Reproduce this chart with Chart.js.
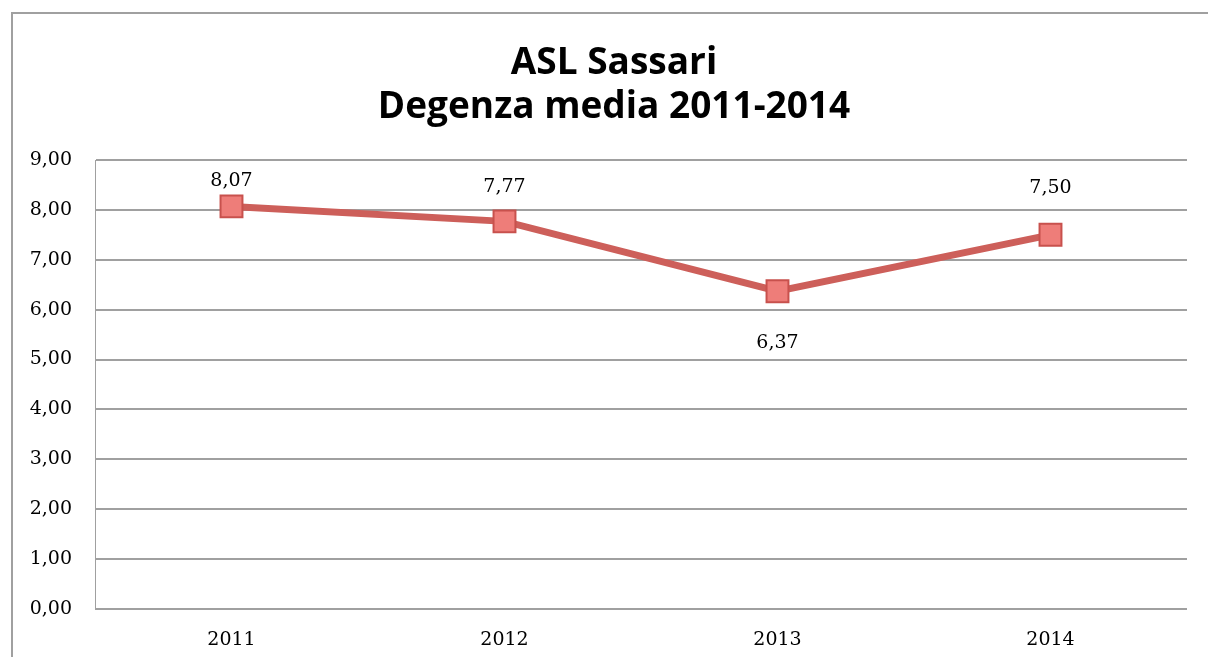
<!DOCTYPE html>
<html><head><meta charset="utf-8">
<script src="https://cdn.jsdelivr.net/npm/chart.js@4"></script>
<style>html,body{margin:0;padding:0;background:#fff}#wrap{width:1208px;height:657px;position:relative}</style>
</head><body><div id="wrap"><canvas id="c"></canvas></div>
<script>
const titleLines = ['ASL Sassari', 'Degenza media 2011-2014'];
const categories = ['2011', '2012', '2013', '2014'];
const values = [8.07, 7.77, 6.37, 7.50];
const yMin = 0, yMax = 9, yStep = 1;

const fmt = v => v.toFixed(2).replace('.', ',');
const labelOffsets = [-25, -34, 52, -47];

const decor = {
  id: 'decor',
  beforeDraw(chart) {
    const ctx = chart.ctx;
    ctx.save();
    ctx.fillStyle = '#fff';
    ctx.fillRect(0, 0, chart.width, chart.height);
    ctx.strokeStyle = '#a0a0a0';
    ctx.lineWidth = 2;
    ctx.beginPath();
    ctx.moveTo(12, chart.height);
    ctx.lineTo(12, 13);
    ctx.lineTo(chart.width, 13);
    ctx.stroke();
    ctx.fillStyle = '#000';
    ctx.font = 'bold 37px "Open Sans"';
    ctx.textAlign = 'center';
    ctx.textBaseline = 'middle';
    ctx.fillText(titleLines[0], 614, 63);
    ctx.fillText(titleLines[1], 614, 107);
    ctx.restore();
  },
  afterDatasetsDraw(chart) {
    const ctx = chart.ctx;
    const meta = chart.getDatasetMeta(0);
    ctx.save();
    ctx.fillStyle = '#000';
    ctx.font = '19px "DejaVu Serif"';
    ctx.textAlign = 'center';
    ctx.textBaseline = 'middle';
    meta.data.forEach((pt, i) => {
      ctx.fillText(fmt(values[i]), pt.x, pt.y + labelOffsets[i]);
    });
    ctx.restore();
  }
};

new Chart(document.getElementById('c'), {
  type: 'line',
  data: {
    labels: categories,
    datasets: [{
      data: values,
      borderColor: '#cd5f5a',
      borderWidth: 7,
      tension: 0,
      pointStyle: 'rect',
      pointRadius: 15.5,
      pointHoverRadius: 15.5,
      pointBackgroundColor: '#ee7d79',
      pointBorderColor: '#c8514d',
      pointBorderWidth: 2
    }]
  },
  options: {
    responsive: true,
    maintainAspectRatio: false,
    animation: false,
    events: [],
    layout: { padding: { top: 160, right: 21, bottom: 0, left: 0 } },
    plugins: { legend: { display: false }, tooltip: { enabled: false }, title: { display: false } },
    scales: {
      x: {
        offset: true,
        grid: { display: false, drawTicks: false },
        border: { display: false },
        ticks: { color: '#000', font: { family: 'DejaVu Serif', size: 19 }, padding: 20 },
        afterFit(s) { s.height = 48; }
      },
      y: {
        min: yMin, max: yMax,
        grid: { color: '#a0a0a0', lineWidth: 2, drawTicks: false },
        border: { display: true, color: '#a0a0a0', width: 1 },
        ticks: {
          stepSize: yStep, color: '#000', padding: 23,
          font: { family: 'DejaVu Serif', size: 19 },
          callback: v => fmt(v)
        },
        afterFit(s) { s.width = 95; }
      }
    }
  },
  plugins: [decor]
});
</script></body></html>
